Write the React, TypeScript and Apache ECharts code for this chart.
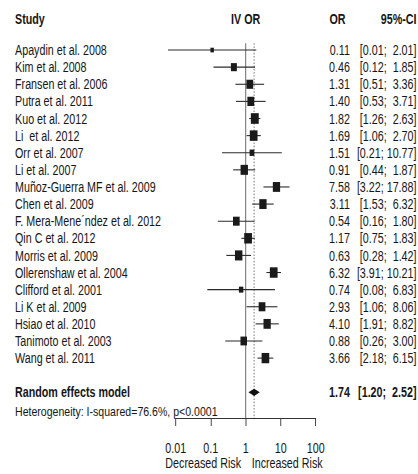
import { useEffect, useRef } from "react";
import * as echarts from "echarts";

// Individual studies (odds ratio, 95% CI, random-effects weight in %)
const studies = [
  "Apaydin et al. 2008",
  "Kim et al. 2008",
  "Fransen et al. 2006",
  "Putra et al. 2011",
  "Kuo et al. 2012",
  "Li\u00a0 et al. 2012",
  "Orr et al. 2007",
  "Li et al. 2007",
  "Muñoz-Guerra MF et al. 2009",
  "Chen et al. 2009",
  "F. Mera-Mene´ndez et al. 2012",
  "Qin C et al. 2012",
  "Morris et al. 2009",
  "Ollerenshaw et al. 2004",
  "Clifford et al. 2001",
  "Li K et al. 2009",
  "Hsiao et al. 2010",
  "Tanimoto et al. 2003",
  "Wang et al. 2011",
];
const oddsRatios = [0.11, 0.46, 1.31, 1.4, 1.82, 1.69, 1.51, 0.91, 7.58, 3.11, 0.54, 1.17, 0.63, 6.32, 0.74, 2.93, 4.1, 0.88, 3.66];
const ciLower = [0.006, 0.12, 0.51, 0.53, 1.26, 1.06, 0.21, 0.44, 3.22, 1.53, 0.16, 0.75, 0.28, 3.91, 0.08, 1.06, 1.91, 0.26, 2.18];
const ciUpper = [2.01, 1.85, 3.36, 3.71, 2.63, 2.7, 10.77, 1.87, 17.88, 6.32, 1.8, 1.83, 1.42, 10.21, 6.83, 8.06, 8.82, 3.0, 6.15];
const weights = [1.4, 4.2, 5.3, 5.5, 7.3, 7.0, 2.6, 6.4, 6.2, 6.2, 5.2, 7.0, 6.5, 7.0, 2.3, 5.3, 6.2, 5.0, 6.8];

// Pooled estimate
const pooledLabel = "Random effects model";
const pooledEstimate = [1.74, 1.2, 2.52]; // OR, lower, upper
const heterogeneityText = "Heterogeneity: I-squared=76.6%, p<0.0001";

// Axis
const tickExponents = [-2, -1, 0, 1, 2];
const tickLabels = ["0.01", "0.1", "1", "10", "100"];
const nullEffect = 1;
const leftAxisTitle = "Decreased Risk";
const rightAxisTitle = "Increased Risk";
const headers = { study: "Study", effect: "IV OR", or: "OR", ci: "95%-CI" };

// Layout (drawn on a wide canvas, then condensed horizontally)
const W = 565;
const H = 474;
const SQUEEZE = 418 / W;
const GRID_LEFT = 237.5;
const GRID_RIGHT = 138.3;
const GRID_TOP = 43.2;
const GRID_BOTTOM = 56;
const Y_MIN = -0.4;
const Y_MAX = 21.5;
const POOLED_ROW = 20;
const HET_ROW = 21.12;
const X_STUDY = 20.3;
const X_OR = 473;
const X_CI = 563;
const FONT = '"Liberation Sans", Arial, Helvetica, sans-serif';
const FS = 14.5;
const TEXT = "#161616";

const ciText = (lo: number, hi: number) =>
  `[${lo.toFixed(2)}; ${hi < 10 ? "\u00a0" : ""}${hi.toFixed(2)}]`;

const txt = (text: string, x: number, y: number, align: string, bold = false, size = FS) => ({
  type: "text",
  style: {
    text,
    x,
    y,
    align,
    textAlign: align,
    verticalAlign: "middle",
    textVerticalAlign: "middle",
    fill: TEXT,
    fontSize: size,
    fontFamily: FONT,
    fontWeight: bold ? "bold" : "normal",
  },
});

export default function App() {
  const ref = useRef<HTMLDivElement>(null);

  useEffect(() => {
    if (!ref.current) return;
    const chart = echarts.init(ref.current, undefined, { renderer: "svg", width: W, height: H });

    const plotW = W - GRID_LEFT - GRID_RIGHT;
    const xOne = GRID_LEFT + plotW / 2;

    const studyData = studies.map((_, i) => [oddsRatios[i], ciLower[i], ciUpper[i], i, weights[i]]);

    chart.setOption({
      animation: false,
      backgroundColor: "#ffffff",
      grid: { left: GRID_LEFT, right: GRID_RIGHT, top: GRID_TOP, bottom: GRID_BOTTOM, containLabel: false },
      xAxis: {
        type: "log",
        logBase: 10,
        min: 0.01,
        max: 100,
        splitNumber: 4,
        position: "bottom",
        axisLine: { show: true, onZero: false, lineStyle: { color: "#333", width: 1.2 } },
        axisTick: { show: true, inside: false, length: 8, lineStyle: { color: "#333", width: 1.2 } },
        minorTick: { show: false },
        splitLine: { show: false },
        axisLabel: {
          margin: 22,
          fontSize: FS,
          fontFamily: FONT,
          color: TEXT,
          showMinLabel: true,
          showMaxLabel: true,
          formatter: (v: number) => {
            const k = tickExponents.indexOf(Math.round(Math.log10(v)));
            return k >= 0 ? tickLabels[k] : "";
          },
        },
      },
      yAxis: { type: "value", inverse: true, min: Y_MIN, max: Y_MAX, show: false },
      series: [
        {
          // reference lines: no effect (solid) and pooled estimate (dotted)
          type: "custom",
          z: 1,
          silent: true,
          data: [[nullEffect, 0], [pooledEstimate[0], 1]],
          encode: { x: 0, y: 1 },
          renderItem: (params: any, api: any) => {
            const v = api.value(0);
            const p1 = api.coord([v, Y_MIN]);
            const p2 = api.coord([v, Y_MAX]);
            const dotted = params.dataIndex === 1;
            return {
              type: "line",
              shape: { x1: p1[0], y1: p1[1], x2: p2[0], y2: p2[1] },
              style: dotted
                ? { stroke: "#808080", lineWidth: 1.4, lineDash: [1.6, 1.6] }
                : { stroke: "#6f6f6f", lineWidth: 1.4 },
            };
          },
        },
        {
          // study estimates: CI whisker + weighted box
          type: "custom",
          z: 3,
          silent: true,
          data: studyData,
          encode: { x: 0, y: 3 },
          renderItem: (_params: any, api: any) => {
            const row = api.value(3);
            const pLo = api.coord([api.value(1), row]);
            const pHi = api.coord([api.value(2), row]);
            const pC = api.coord([api.value(0), row]);
            const side = 3.95 * Math.sqrt(api.value(4));
            return {
              type: "group",
              children: [
                {
                  type: "line",
                  shape: { x1: pLo[0], y1: pLo[1], x2: pHi[0], y2: pHi[1] },
                  style: { stroke: "#2b2b2b", lineWidth: 1.1 },
                },
                {
                  type: "rect",
                  shape: { x: pC[0] - side / 2, y: pC[1] - side / 2, width: side, height: side },
                  style: { fill: "#1a1a1a" },
                },
              ],
            };
          },
        },
        {
          // study text columns
          type: "custom",
          z: 4,
          silent: true,
          data: studies.map((_, i) => [nullEffect, i]),
          encode: { x: 0, y: 1 },
          renderItem: (params: any, api: any) => {
            const i = params.dataIndex;
            const y = api.coord([nullEffect, api.value(1)])[1];
            return {
              type: "group",
              children: [
                txt(studies[i], X_STUDY, y, "left"),
                txt(oddsRatios[i].toFixed(2), X_OR, y, "right"),
                txt(ciText(ciLower[i], ciUpper[i]), X_CI, y, "right"),
              ],
            };
          },
        },
        {
          // pooled estimate: diamond + texts
          type: "custom",
          z: 4,
          silent: true,
          data: [[pooledEstimate[0], pooledEstimate[1], pooledEstimate[2], POOLED_ROW]],
          encode: { x: 0, y: 3 },
          renderItem: (_params: any, api: any) => {
            const row = api.value(3);
            const c = api.coord([api.value(0), row]);
            const lo = api.coord([api.value(1), row]);
            const hi = api.coord([api.value(2), row]);
            const hh = 3.6;
            const yHet = api.coord([nullEffect, HET_ROW])[1];
            return {
              type: "group",
              children: [
                {
                  type: "polygon",
                  shape: { points: [[lo[0], c[1]], [c[0], c[1] - hh], [hi[0], c[1]], [c[0], c[1] + hh]] },
                  style: { fill: "#111" },
                },
                txt(pooledLabel, X_STUDY, c[1], "left", true),
                txt(pooledEstimate[0].toFixed(2), X_OR, c[1], "right", true),
                txt(ciText(pooledEstimate[1], pooledEstimate[2]), X_CI, c[1], "right", true),
                {
                  ...txt(heterogeneityText, 0, 0, "left", false, 12),
                  x: X_STUDY,
                  y: yHet,
                  scaleX: 1.19,
                },
              ],
            };
          },
        },
      ],
      graphic: [
        txt(headers.study, X_STUDY, 19, "left", true),
        txt(headers.effect, xOne, 19, "center", true),
        txt(headers.or, 467, 19, "right", true),
        txt(headers.ci, X_CI, 19, "right", true),
        txt(leftAxisTitle, xOne - 6.3, 463, "right"),
        txt(rightAxisTitle, xOne + 8.1, 463, "left"),
      ],
    });

    return () => chart.dispose();
  }, []);

  return (
    <div style={{ position: "fixed", left: 0, top: 0, width: 418, height: H, overflow: "hidden", background: "#fff" }}>
      <div
        ref={ref}
        style={{ width: W, height: H, transform: `scaleX(${SQUEEZE})`, transformOrigin: "0 0" }}
      />
    </div>
  );
}
